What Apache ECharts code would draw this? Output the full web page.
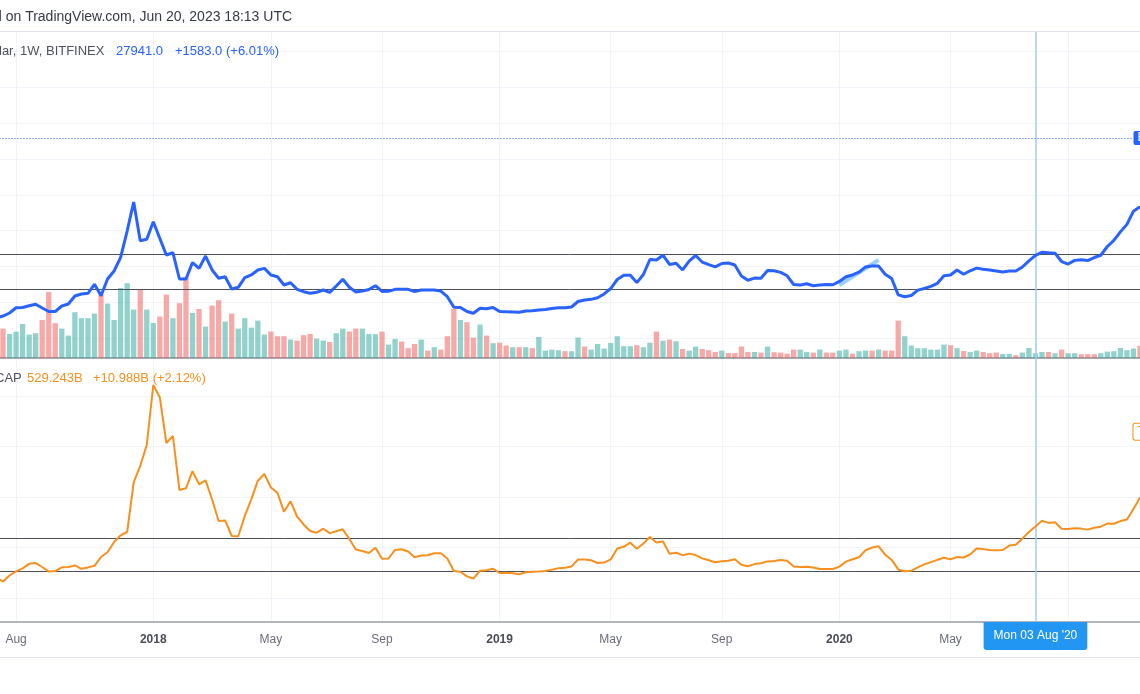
<!DOCTYPE html>
<html><head><meta charset="utf-8">
<script src="https://cdn.jsdelivr.net/npm/echarts@6/dist/echarts.min.js"></script>
<style>html,body{margin:0;padding:0;background:#fff;overflow:hidden}#c{width:1140px;height:694px}</style>
</head><body><div id="c"></div>
<script>
// ---------------- data ----------------
const firstWeek = '2017-07-17';
const weekCount = 176;
const tickDates = ['2017-08-07','2018-01-01','2018-05-07','2018-09-03','2019-01-07','2019-05-06','2019-09-02','2020-01-06','2020-05-04','2020-09-07'];
const tickLabels = ['Aug','2018','May','Sep','2019','May','Sep','2020','May','Sep'];

const btcClose = [2790,
 3070,3490,4230,4260,4510,4710,4190,3700,3700,4470,
 4750,5870,6150,6240,7500,5910,8240,9360,11270,14940,
 18990,13590,13780,16240,13900,11590,11910,8240,8240,10520,
 9730,11450,9500,8340,8560,6840,7080,8420,8800,9500,
 9730,8800,8560,7400,7720,6800,6470,6240,6380,6700,
 6380,7260,8200,7080,6420,6560,6770,7300,6510,6520,
 6800,6800,6800,6490,6700,6700,6700,6560,5770,4290,
 4260,3700,3460,4150,4090,4260,3700,3670,3630,3590,
 3770,3810,3900,3980,4120,4220,4230,4330,5100,5310,
 5400,5630,6150,6910,8170,8770,8770,7740,8870,10960,
 10890,11560,10270,10430,9500,10750,11520,10610,10240,9940,
 10400,10470,10200,8660,8060,8370,8340,9430,9390,9160,
 8690,7470,7400,7570,7290,7400,7470,7440,7900,8560,
 8800,9190,9930,10040,10040,8910,8300,6030,5770,5940,
 6680,6910,7210,7640,8690,8800,9500,8900,9390,9760,
 9610,9500,9370,9230,9370,9360,9920,10780,11540,11970,
 11890,11830,10680,10330,10840,10940,10820,11240,11560,12780,
 13640,14820,15870,17710,18350];

const volume = [null,
 147,120,132,170,117,124,190,330,174,147,
 112,229,199,199,222,315,272,190,350,374,
 242,344,242,175,207,317,199,274,405,225,
 245,157,262,289,182,222,147,199,152,187,
 117,132,109,109,92,87,114,120,97,87,
 80,124,147,132,147,147,120,119,132,67,
 95,82,49,70,92,37,54,42,109,245,
 190,179,102,167,112,74,77,62,54,54,
 54,49,105,37,42,39,34,34,102,57,
 42,70,47,75,109,59,59,64,54,77,
 132,87,92,84,45,37,57,45,39,30,
 37,25,25,57,30,30,27,57,29,27,
 22,42,42,30,27,42,27,27,37,42,
 22,34,37,37,42,37,37,187,109,62,
 49,49,42,42,67,64,49,35,30,37,
 30,24,27,20,20,14,27,50,24,30,
 30,24,42,24,24,19,19,19,24,32,
 34,50,39,47,62];

const volumeDirection = ['d',
 'd','u','u','u','u','u','d','d','d','u',
 'u','u','u','u','u','d','u','u','u','u',
 'u','d','u','u','d','d','u','d','d','u',
 'd','u','d','d','u','d','u','u','u','u',
 'u','d','d','d','u','d','d','d','u','u',
 'd','u','u','d','d','u','u','u','d','u',
 'u','d','d','d','u','d','u','d','d','d',
 'u','d','d','u','d','u','d','d','u','d',
 'u','d','u','u','u','u','d','u','u','d',
 'u','u','u','u','u','u','u','d','u','u',
 'd','u','d','u','d','u','u','d','d','d',
 'u','d','d','d','d','u','d','u','d','d',
 'd','d','u','u','d','u','d','d','u','u',
 'd','u','u','d','u','d','d','d','u','u',
 'u','u','u','u','u','d','u','d','u','u',
 'd','d','d','u','u','d','u','u','u','u',
 'd','u','d','u','u','d','d','d','u','u',
 'u','u','u','u','d'];

const totalCap = [239.6,
 232.7,244.6,252.7,258.8,267.7,269.1,261.4,252.3,253.3,260.8,
 261.4,264.4,257.8,260.6,263.8,281.2,290.5,310.9,324.2,330.7,
 429.1,461.4,503.0,621.8,597.0,506.9,520.8,413.9,417.2,451.1,
 425.0,432.9,395.0,352.5,353.5,322.8,322.4,362.4,395.4,432.3,
 445.5,418.8,408.3,370.9,391.5,361.4,345.6,332.7,329.3,337.2,
 328.5,332.3,336.0,316.8,296.0,293.1,289.1,299.4,277.6,278.2,
 295.1,296.6,292.1,280.6,284.0,284.6,288.5,288.5,278.2,253.5,
 252.1,242.8,238.6,254.1,254.9,258.0,249.5,250.1,249.1,247.1,
 250.9,252.1,252.7,253.5,256.2,258.8,259.8,262.2,276.2,276.2,
 274.7,269.3,270.1,276.4,298.2,301.4,309.5,297.4,307.9,320.8,
 309.9,311.9,287.7,289.7,284.8,287.9,285.0,278.4,274.7,270.9,
 272.9,273.9,276.8,265.7,263.0,267.1,268.7,272.5,273.3,275.3,
 273.9,262.4,261.2,262.0,260.2,257.6,257.2,257.4,262.2,272.1,
 276.6,280.8,294.5,300.0,302.4,285.9,275.4,256.6,253.1,253.9,
 260.8,266.5,271.1,275.6,279.8,276.6,281.2,280.2,286.1,298.2,
 296.8,295.2,294.5,295.1,303.8,305.5,318.0,330.7,341.8,352.9,
 348.7,349.9,337.0,336.6,338.0,337.4,335.4,339.0,341.2,347.3,
 347.1,352.3,355.4,376.4,399.2];

const priceGridLines = [0,5000,10000,15000,20000,25000,30000,35000,40000];
const capGridLines = [200,300,400,500,600];
const priceLevels = [11730, 6800];
const capLevels = [318.2, 252.1];
const lastPrice = 27941.0;
const lastCap = 529.243;
const crosshairDate = '2020-08-03';
const crosshairText = "Mon 03 Aug '20";
const channelStart = ['2020-01-06', 7400];
const channelEnd = ['2020-02-17', 10900];

const headerText = 'd on TradingView.com, Jun 20, 2023 18:13 UTC';
const topLegend = ['lar, 1W, BITFINEX', '27941.0', '+1583.0 (+6.01%)'];
const bottomLegend = ['CAP', '529.243B', '+10.988B (+2.12%)'];

// ---------------- build ----------------
const dates = [];
(function(){ const t0 = Date.parse(firstWeek + 'T00:00:00Z');
  for (let k = 0; k < weekCount; k++) dates.push(new Date(t0 + k*7*86400000).toISOString().slice(0,10)); })();

const FONT = '"Liberation Sans", Arial, sans-serif';
const BLUE = '#2962ff', ORANGE = '#f7901e', GRID = '#f0f3fa', LEGEND = '#50535e';
const UP = 'rgba(38,166,154,0.5)', DOWN = 'rgba(239,83,80,0.5)';
const lastIdx = dates.length - 1;
const labelIdx = lastIdx - 1;
const crossIdx = dates.indexOf(crosshairDate);
const isTick = (idx, val) => tickDates.indexOf(val) >= 0;

const volData = volume.map((v, i) => ({ value: v, itemStyle: { color: volumeDirection[i] === 'u' ? UP : DOWN } }));

function hiddenLine(x, y, data, z, markLine) {
  return { type: 'line', xAxisIndex: x, yAxisIndex: y, data: data, showSymbol: false, silent: true,
    lineStyle: { opacity: 0 }, z: z, markLine: markLine };
}
function txt(text, left, top, color, size) {
  return { text: text, left: left, top: top, padding: 0,
    textStyle: { fontFamily: FONT, fontSize: size || 13, fontWeight: 'normal', color: color } };
}

const option = {
  animation: false,
  backgroundColor: '#ffffff',
  textStyle: { fontFamily: FONT },
  title: [
    txt(headerText, -6, 10, '#363a45', 14),
    txt(topLegend[0], -1, 45, LEGEND),
    txt(topLegend[1], 116, 45, BLUE),
    txt(topLegend[2], 175, 45, BLUE),
    txt(bottomLegend[0], -5, 372, LEGEND),
    txt(bottomLegend[1], 27, 372, ORANGE),
    txt(bottomLegend[2], 93, 372, ORANGE)
  ],
  graphic: [
    { type: 'line', silent: true, shape: { x1: 0, y1: 31.5, x2: 1140, y2: 31.5 }, style: { stroke: '#e0e3eb', lineWidth: 1 } },
    { type: 'line', silent: true, shape: { x1: 0, y1: 657.5, x2: 1140, y2: 657.5 }, style: { stroke: '#e0e3eb', lineWidth: 1 } }
  ],
  grid: [
    { left: -3.534, right: 0, top: 32, height: 326, outerBoundsMode: 'none', containLabel: false },
    { left: -3.534, right: 0, top: 358, height: 264, outerBoundsMode: 'none', containLabel: false }
  ],
  xAxis: [
    { type: 'category', gridIndex: 0, data: dates, boundaryGap: false,
      axisLine: { show: true, onZero: false, lineStyle: { color: '#8a8d96', width: 1.5 } },
      axisTick: { show: false }, axisLabel: { show: false },
      splitLine: { show: true, interval: isTick, lineStyle: { color: GRID, width: 1 } } },
    { type: 'category', gridIndex: 1, data: dates, boundaryGap: false,
      axisLine: { show: true, onZero: false, lineStyle: { color: '#b2b5be', width: 2 } },
      axisTick: { show: false },
      axisLabel: { show: true, interval: isTick, margin: 12, fontFamily: FONT, fontSize: 12,
        formatter: (val) => { const s = tickLabels[tickDates.indexOf(val)] || '';
          return /^\d{4}$/.test(s) ? '{y|' + s + '}' : '{m|' + s + '}'; },
        rich: { y: { fontFamily: FONT, fontSize: 12, fontWeight: 'bold', color: '#4a4d57' },
                m: { fontFamily: FONT, fontSize: 12, color: '#6a6d78' } } },
      splitLine: { show: true, interval: isTick, lineStyle: { color: GRID, width: 1 } } }
  ],
  yAxis: [
    { type: 'value', gridIndex: 0, show: false, min: -2793.2, max: 42736, splitLine: { show: false } },
    { type: 'value', gridIndex: 0, show: false, min: 0, max: 1630, splitLine: { show: false } },
    { type: 'value', gridIndex: 1, show: false, min: 152.48, max: 675.25, splitLine: { show: false } }
  ],
  series: [
    hiddenLine(0, 0, btcClose, 0, { silent: true, z: 0, symbol: 'none', label: { show: false },
      lineStyle: { color: GRID, width: 1, type: 'solid' },
      data: priceGridLines.map(v => ({ yAxis: v })) }),
    { type: 'bar', xAxisIndex: 0, yAxisIndex: 1, data: volData, barWidth: 5.3, z: 1, silent: true },
    hiddenLine(0, 0, btcClose, 1, { silent: true, z: 2, symbol: 'none', label: { show: false },
      data: [
        ...priceLevels.map(v => ({ yAxis: v, lineStyle: { color: '#4c4f59', width: 1, type: 'solid' } })),
        { xAxis: crossIdx, lineStyle: { color: '#9fcbf6', width: 1.5, type: 'solid' } },
        [ { coord: [dates.indexOf(channelStart[0]), channelStart[1]], lineStyle: { color: 'rgba(33,150,243,0.45)', width: 4, type: 'solid' } },
          { coord: [dates.indexOf(channelEnd[0]), channelEnd[1]] } ],
        [ { coord: [0, lastPrice], lineStyle: { color: BLUE, width: 1, type: [1, 2] },
            label: { show: true, position: 'end', distance: 0, formatter: 'BTCUSD', color: '#fff', fontFamily: FONT,
              fontSize: 12, backgroundColor: BLUE, padding: [1, 4], borderRadius: 2 } },
          { coord: [labelIdx, lastPrice] } ]
      ] }),
    { type: 'line', xAxisIndex: 0, yAxisIndex: 0, data: btcClose, showSymbol: false, z: 3, silent: true,
      lineStyle: { color: BLUE, width: 3 }, itemStyle: { color: BLUE } },

    hiddenLine(1, 2, totalCap, 0, { silent: true, z: 0, symbol: 'none', label: { show: false },
      lineStyle: { color: GRID, width: 1, type: 'solid' },
      data: capGridLines.map(v => ({ yAxis: v })) }),
    hiddenLine(1, 2, totalCap, 1, { silent: true, z: 2, symbol: 'none', label: { show: false },
      data: [
        ...capLevels.map(v => ({ yAxis: v, lineStyle: { color: '#4c4f59', width: 1, type: 'solid' } })),
        { xAxis: crossIdx, lineStyle: { color: '#9fcbf6', width: 1.5, type: 'solid' },
          label: { show: true, position: 'start', distance: 0, formatter: crosshairText, color: '#fff',
            fontFamily: FONT, fontSize: 12, backgroundColor: '#2196f3', padding: [8, 10], borderRadius: [0, 0, 3, 3] } },
        [ { coord: [0, lastCap], lineStyle: { color: 'rgba(0,0,0,0)', width: 1 },
            label: { show: true, position: 'end', distance: 0, formatter: 'TOTAL', color: ORANGE, fontFamily: FONT,
              fontSize: 12, backgroundColor: '#fff', borderColor: ORANGE, borderWidth: 1, padding: [2, 4], borderRadius: 2 } },
          { coord: [labelIdx, lastCap] } ]
      ] }),
    { type: 'line', xAxisIndex: 1, yAxisIndex: 2, data: totalCap, showSymbol: false, z: 3, silent: true,
      lineStyle: { color: ORANGE, width: 2 }, itemStyle: { color: ORANGE } }
  ]
};

const chart = echarts.init(document.getElementById('c'), null, { renderer: 'canvas' });
chart.setOption(option);
</script></body></html>
